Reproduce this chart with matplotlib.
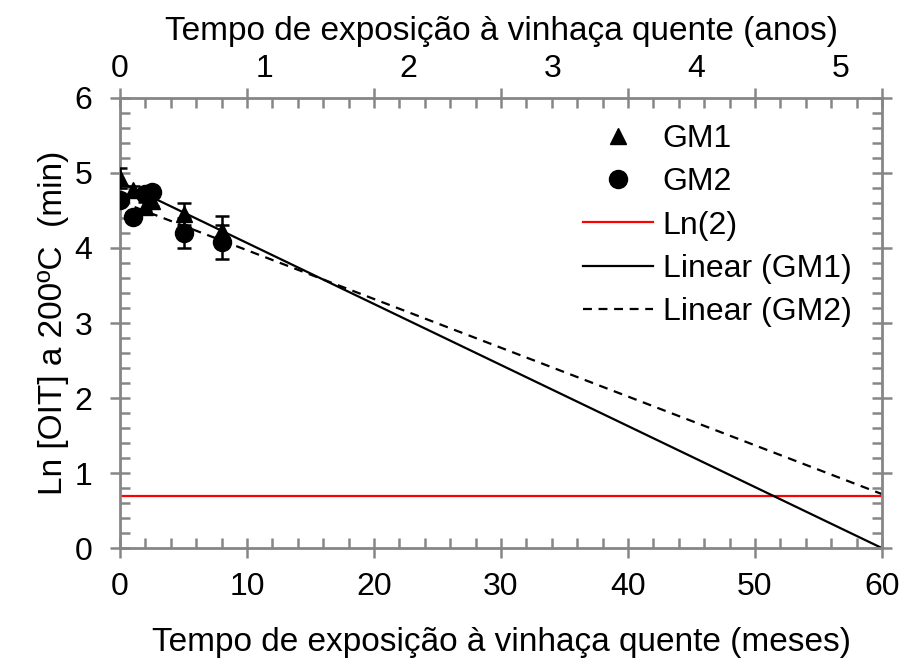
import matplotlib.pyplot as plt
import numpy as np
from matplotlib.ticker import MultipleLocator

plt.rcParams['font.family'] = ['Liberation Sans', 'DejaVu Sans']

# OIT measurements (ln of minutes) vs. months of exposure
gm1_months = [0, 1, 2, 2.5, 5, 8]
gm1_ln_oit = [4.93, 4.77, 4.55, 4.62, 4.45, 4.22]
gm1_err = [0.13, 0.06, 0.06, 0.06, 0.15, 0.21]

gm2_months = [0, 1, 2, 2.5, 5, 8]
gm2_ln_oit = [4.64, 4.41, 4.72, 4.74, 4.20, 4.08]
gm2_err = [0.06, 0.06, 0.06, 0.06, 0.20, 0.23]

# linear trendlines, extrapolated to 60 months
trend_months = [0, 60]
gm1_trend = [4.88, 0.0]
gm2_trend = [4.62, 0.72]

ln2_level = np.log(2)

year_labels = [0, 1, 2, 3, 4, 5]
months_per_label = 11.35

gray = '#868686'

fig = plt.figure(figsize=(9.06, 6.66), dpi=100)
ax = fig.add_axes([0.1325, 0.177, 0.841, 0.676])

ax.axhline(ln2_level, color='red', lw=1.6, label='Ln(2)', zorder=2)

ax.errorbar(gm1_months, gm1_ln_oit, yerr=gm1_err, fmt='none', ecolor='black',
            elinewidth=1.8, capsize=5, capthick=1.8, zorder=3)
ax.errorbar(gm2_months, gm2_ln_oit, yerr=gm2_err, fmt='none', ecolor='black',
            elinewidth=1.8, capsize=5, capthick=1.8, zorder=3)
ax.plot(gm1_months, gm1_ln_oit, '^', color='black', ms=12, label='GM1', zorder=4)
ax.plot(gm2_months, gm2_ln_oit, 'o', color='black', ms=13, label='GM2', zorder=4)

ax.plot(trend_months, gm1_trend, color='black', lw=1.6, label='Linear (GM1)', zorder=2)
ax.plot(trend_months, gm2_trend, color='black', lw=1.6, ls=(0, (4, 3)),
        label='Linear (GM2)', zorder=2)

ax.set_xlim(0, 60)
ax.set_ylim(0, 6)
ax.xaxis.set_major_locator(MultipleLocator(10))
ax.xaxis.set_minor_locator(MultipleLocator(2))
ax.yaxis.set_major_locator(MultipleLocator(1))
ax.yaxis.set_minor_locator(MultipleLocator(0.2))

for s in ax.spines.values():
    s.set_color(gray)
    s.set_linewidth(2)

ax.tick_params(which='both', top=True, right=True, color=gray, width=1.8)
ax.tick_params(which='major', direction='inout', length=14, labelsize=23)
ax.tick_params(which='minor', direction='in', length=7)
ax.tick_params(axis='x', which='major', pad=10)
ax.tick_params(axis='y', which='major', pad=13)

ax.set_xlabel('Tempo de exposição à vinhaça quente (meses)', fontsize=24, labelpad=18)
ax.set_ylabel('Ln [OIT] a 200ºC  (min)', fontsize=24, labelpad=4)

# year scale on top
top = ax.secondary_xaxis('top', functions=(lambda m: m / months_per_label,
                                           lambda y: y * months_per_label))
top.set_xticks(year_labels)
top.tick_params(length=0, labelsize=23, pad=10)
top.spines['top'].set_visible(False)
top.set_xlabel('Tempo de exposição à vinhaça quente (anos)', fontsize=24, labelpad=10)

handles, labels = ax.get_legend_handles_labels()
order = ['GM1', 'GM2', 'Ln(2)', 'Linear (GM1)', 'Linear (GM2)']
h = [handles[labels.index(o)] for o in order]
ax.legend(h, order, loc='upper right', bbox_to_anchor=(0.985, 0.985), frameon=False,
          fontsize=23, handlelength=2.2, handletextpad=0.3, labelspacing=0.42,
          borderaxespad=0.2)

fig.savefig('out.png', dpi=100)
